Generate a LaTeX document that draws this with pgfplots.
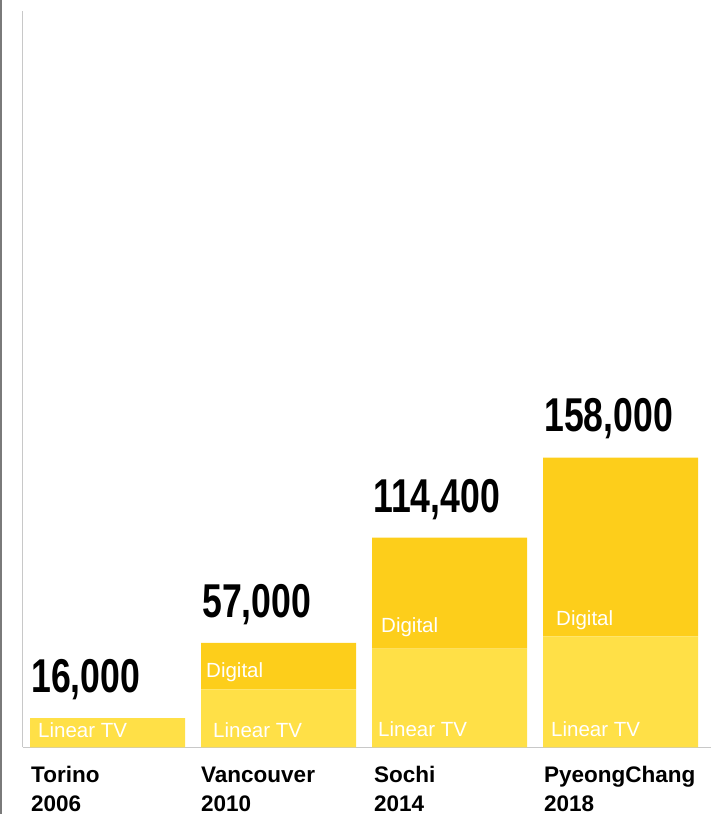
\documentclass[border=0pt]{standalone}
\usepackage{pgfplots}
\pgfplotsset{compat=1.18}
\usepackage{fontspec}
\setmainfont{Liberation Sans}
\newfontfamily\condfont[FakeStretch=0.75]{Liberation Sans}
\definecolor{linear}{HTML}{FFE047}
\definecolor{digital}{HTML}{FDCE1B}
\definecolor{axisgray}{HTML}{C8C8C8}
\definecolor{edgegray}{HTML}{7A7A7A}
\begin{document}
\begin{tikzpicture}[x=1pt,y=1pt]
\useasboundingbox (0,0) rectangle (711,814);
\fill[edgegray] (0,0) rectangle (2,814);
\begin{axis}[
  at={(22.5pt,66.5pt)}, anchor=south west,
  scale only axis, width=688.5pt, height=736pt,
  xmin=22.5, xmax=711, ymin=0, ymax=401000,
  axis lines=left, axis line style={-, draw=axisgray, line width=1.5pt},
  xtick=\empty, ytick=\empty,
  ybar stacked, bar width=155,
  clip=false,
]
\addplot[draw=none, fill=linear] coordinates {(107.5,16000) (278.5,31600) (449.5,53900) (620.5,60500)};
\addplot[draw=none, fill=digital] coordinates {(107.5,0) (278.5,25400) (449.5,60500) (620.5,97500)};
\coordinate (l1) at (axis cs:38,0);
\coordinate (l2) at (axis cs:213,0);
\coordinate (l3) at (axis cs:378,0);
\coordinate (l4) at (axis cs:551,0);
\coordinate (d2) at (axis cs:206,31600);
\coordinate (d3) at (axis cs:381,53900);
\coordinate (d4) at (axis cs:556,60500);
\coordinate (t1) at (axis cs:31,16000);
\coordinate (t2) at (axis cs:202,57000);
\coordinate (t3) at (axis cs:373,114400);
\coordinate (t4) at (axis cs:544,158000);
\coordinate (c1) at (axis cs:31,0);
\coordinate (c2) at (axis cs:201,0);
\coordinate (c3) at (axis cs:374,0);
\coordinate (c4) at (axis cs:544,0);
\end{axis}
% segment labels
\tikzset{seg/.style={anchor=base west, inner sep=0pt, text=white, font=\fontsize{20.5}{24}\selectfont}}
\node[seg] at (l1) [yshift=9.5pt] {Linear TV};
\node[seg] at (l2) [yshift=9.5pt] {Linear TV};
\node[seg] at (l3) [yshift=10.5pt] {Linear TV};
\node[seg] at (l4) [yshift=10.5pt] {Linear TV};
\node[seg] at (d2) [yshift=12pt] {Digital};
\node[seg] at (d3) [yshift=16pt] {Digital};
\node[seg] at (d4) [yshift=11pt] {Digital};
% totals
\tikzset{tot/.style={anchor=base west, inner sep=0pt, text=black, font=\condfont\bfseries\fontsize{47.5}{50}\selectfont}}
\node[tot] at (t1) [yshift=26pt] {16,000};
\node[tot] at (t2) [yshift=25pt] {57,000};
\node[tot] at (t3) [yshift=25pt] {114,400};
\node[tot] at (t4) [yshift=26pt] {158,000};
% categories
\tikzset{cat/.style={anchor=base west, inner sep=0pt, text=black, font=\bfseries\fontsize{22.5}{29}\selectfont}}
\node[cat] at (c1) [yshift=-35pt] {Torino};
\node[cat] at (c1) [yshift=-64pt] {2006};
\node[cat] at (c2) [yshift=-35pt] {Vancouver};
\node[cat] at (c2) [yshift=-64pt] {2010};
\node[cat] at (c3) [yshift=-35pt] {Sochi};
\node[cat] at (c3) [yshift=-64pt] {2014};
\node[cat] at (c4) [yshift=-35pt] {PyeongChang};
\node[cat] at (c4) [yshift=-64pt] {2018};
\end{tikzpicture}
\end{document}
